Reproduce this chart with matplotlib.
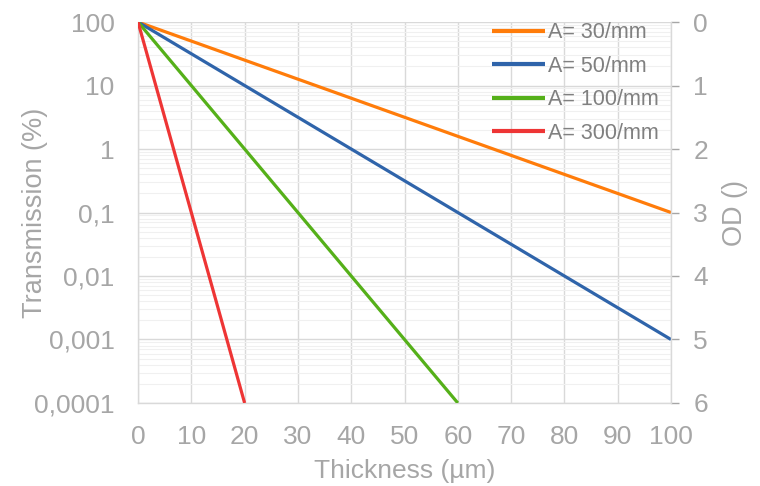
import matplotlib
matplotlib.use("Agg")
import matplotlib.pyplot as plt
from matplotlib.ticker import FixedLocator, NullFormatter, LogLocator

plt.rcParams['font.family'] = ['Liberation Sans', 'DejaVu Sans']

# Data (thickness in µm, transmission in %)
thickness_30 = [0, 100]
trans_30 = [100, 0.1]
thickness_50 = [0, 100]
trans_50 = [100, 0.001]
thickness_100 = [0, 60]
trans_100 = [100, 0.0001]
thickness_300 = [0, 20]
trans_300 = [100, 0.0001]
labels = ["A= 30/mm", "A= 50/mm", "A= 100/mm", "A= 300/mm"]
colors = ["#FF7C0A", "#2F64AA", "#55B019", "#EE3535"]

y_ticks = [0.0001, 0.001, 0.01, 0.1, 1, 10, 100]
y_ticklabels = ["0,0001", "0,001", "0,01", "0,1", "1", "10", "100"]
x_ticks = [0, 10, 20, 30, 40, 50, 60, 70, 80, 90, 100]
od_ticks = [0, 1, 2, 3, 4, 5, 6]

grey = "#A6A6A6"
gridc = "#D9D9D9"

fig = plt.figure(figsize=(7.6, 4.86), dpi=100)
ax = fig.add_axes([0.1816, 0.1708, 0.7013, 0.7839])

series = [(thickness_30, trans_30), (thickness_50, trans_50),
          (thickness_100, trans_100), (thickness_300, trans_300)]
for (xs, ys), lab, c in zip(series, labels, colors):
    ax.plot(xs, ys, color=c, lw=2.3, label=lab, solid_capstyle='butt', zorder=3)

ax.set_yscale('log')
ax.set_xlim(0, 100)
ax.set_ylim(0.0001, 100)
ax.yaxis.set_major_locator(FixedLocator(y_ticks))
ax.set_yticklabels(y_ticklabels)
ax.yaxis.set_minor_locator(LogLocator(base=10, subs=range(2, 10)))
ax.yaxis.set_minor_formatter(NullFormatter())
ax.set_xticks(x_ticks)

ax.grid(which='major', color=gridc, lw=1.0, zorder=0)
ax.grid(which='minor', axis='y', color="#F0F0F0", lw=0.8, zorder=0)
ax.set_axisbelow(True)

for s in ['top', 'right']:
    ax.spines[s].set_visible(False)
for s in ['left', 'bottom']:
    ax.spines[s].set_color(gridc)
    ax.spines[s].set_linewidth(1.0)

ax.tick_params(axis='both', which='both', length=0, colors=grey, labelsize=19)
ax.tick_params(axis='y', pad=17)
ax.tick_params(axis='x', pad=16)
ax.set_xlabel("Thickness (µm)", color=grey, fontsize=19)
ax.xaxis.set_label_coords(0.5, -0.148)
ax.set_ylabel("Transmission (%)", color=grey, fontsize=19.5)
ax.yaxis.set_label_coords(-0.169, 0.5)

ax2 = ax.twinx()
ax2.set_ylim(6, 0)
ax2.set_yticks(od_ticks)
for s in ['top', 'left', 'bottom']:
    ax2.spines[s].set_visible(False)
ax2.spines['right'].set_color(gridc)
ax2.spines['right'].set_linewidth(1.0)
ax2.tick_params(axis='y', length=6, width=1.0, colors=grey, labelsize=19, pad=10)
for t in ax2.yaxis.get_major_ticks():
    t.tick2line.set_color(gridc)
ax2.set_ylabel("OD ()", color=grey, fontsize=19.5)
ax2.yaxis.set_label_coords(1.096, 0.5)

leg = ax.legend(loc='upper right', frameon=False, fontsize=15.5, handlelength=2.45,
                handletextpad=0.15, labelspacing=0.58, borderaxespad=0.0,
                bbox_to_anchor=(0.994, 1.022))
for t in leg.get_texts():
    t.set_color("#808080")
for h in leg.get_lines():
    h.set_linewidth(3.0)

fig.savefig("out.png", dpi=100)
